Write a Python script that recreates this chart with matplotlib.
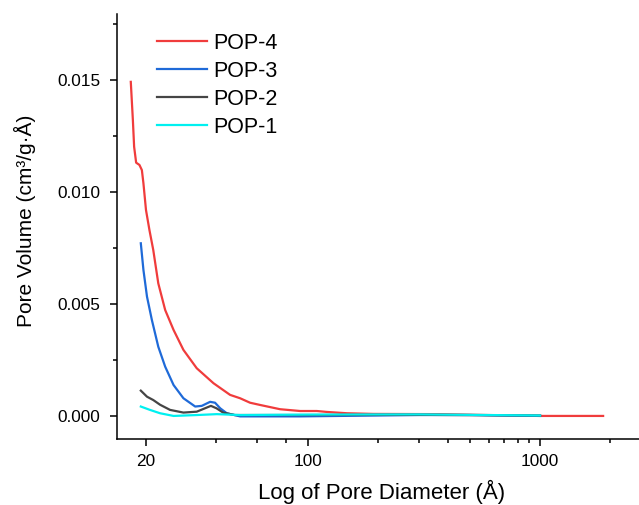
import numpy as np
import matplotlib
matplotlib.use("Agg")
import matplotlib.pyplot as plt
from matplotlib.ticker import FixedLocator, NullFormatter

plt.rcParams['font.family'] = ['Liberation Sans', 'DejaVu Sans']

# pore diameter (A) and pore volume (cm3/g/A)
pop4_d = [17.2, 17.56, 17.78, 18.14, 18.74, 19.2, 19.5, 20.0, 20.7, 21.5, 22.6,
          24.2, 26.3, 29.0, 33.1, 39.1, 46.1, 50.9, 56.2, 62.1, 75.7, 92.4,
          109, 120, 147, 191, 371, 600, 1000, 1870]
pop4_v = [0.01492, 0.01321, 0.01202, 0.01131, 0.01121, 0.01098, 0.01039, 0.0092,
          0.0083, 0.00741, 0.00592, 0.00473, 0.00384, 0.00295, 0.00213, 0.00146,
          0.00094, 0.00079, 0.00059, 0.00049, 0.0003, 0.00022, 0.00022, 0.00018,
          0.00012, 0.00009, 0.00008, 0.00004, 0.0, 0.0]

pop3_d = [19.0, 19.5, 20.2, 21.2, 22.6, 24.2, 26.3, 29.0, 32.6, 34.8, 37.8, 39.7,
          41.8, 44.6, 50.9, 92, 300, 500, 1000]
pop3_v = [0.00771, 0.00652, 0.00533, 0.00429, 0.00309, 0.0022, 0.00138, 0.00079,
          0.00042, 0.00045, 0.00063, 0.00059, 0.00034, 0.00012, -0.00002,
          -0.00002, 0.00004, 0.00004, 0.0]

pop2_d = [19.0, 20.2, 21.5, 23.0, 25.4, 29.0, 33.1, 35.9, 38.1, 40.3, 43.0, 48.3,
          100, 300, 1000]
pop2_v = [0.00113, 0.00086, 0.00071, 0.0005, 0.00027, 0.00015, 0.00019, 0.00034,
          0.00045, 0.00034, 0.00015, 0.00004, 0.00004, 0.00005, 0.00002]

pop1_d = [19.0, 20.8, 23.0, 26.3, 33.1, 40.4, 50.9, 100, 300, 600, 1000]
pop1_v = [0.00042, 0.00027, 0.00012, 0.0, 0.00004, 0.00008, 0.00004,
          0.00006, 0.00007, 0.00004, 0.00002]

series = [
    ("POP-4", pop4_d, pop4_v, "#f03c3c"),
    ("POP-3", pop3_d, pop3_v, "#1f6ad8"),
    ("POP-2", pop2_d, pop2_v, "#454545"),
    ("POP-1", pop1_d, pop1_v, "#00f0f0"),
]

fig = plt.figure(figsize=(6.39, 5.05), dpi=100)
ax = fig.add_axes([117 / 639, 66 / 505, 522 / 639, 425 / 505])

for name, d, v, c in series:
    ax.plot(d, v, color=c, lw=1.6, label=name)

ax.set_xscale("log")
ax.set_xlim(15.0, 2670)
ax.set_ylim(-0.00103, 0.01795)

ax.xaxis.set_major_locator(FixedLocator([20, 100, 1000]))
ax.set_xticklabels(["20", "100", "1000"])
ax.xaxis.set_minor_locator(FixedLocator([40, 60, 80, 200, 300, 400, 500, 600,
                                         700, 800, 900, 2000]))
ax.xaxis.set_minor_formatter(NullFormatter())
ax.set_yticks([0.0, 0.005, 0.010, 0.015])
ax.set_yticklabels(["0.000", "0.005", "0.010", "0.015"])
ax.set_yticks([0.0025, 0.0075, 0.0125, 0.0175], minor=True)

for s in ["top", "right"]:
    ax.spines[s].set_visible(False)
for s in ["left", "bottom"]:
    ax.spines[s].set_linewidth(1.1)

ax.tick_params(which="major", length=5, width=1.1, labelsize=12.4)
ax.tick_params(axis="y", which="major", pad=7)
ax.tick_params(axis="x", which="major", pad=6)
ax.tick_params(which="minor", length=3, width=1.1)

ax.set_xlabel("Log of Pore Diameter (Å)", fontsize=16)
ax.xaxis.set_label_coords(0.507, -0.095)
ax.set_ylabel("Pore Volume (cm³/g·Å)", fontsize=15)
ax.yaxis.set_label_coords(-0.155, 0.513)

ax.legend(loc="upper left", bbox_to_anchor=(157 / 639, 1 - 33 / 505),
          bbox_transform=fig.transFigure, frameon=False, fontsize=15.5,
          handlelength=2.33, handletextpad=0.28, labelspacing=0.32,
          borderaxespad=0, borderpad=0)

fig.savefig("out.png", dpi=100)
